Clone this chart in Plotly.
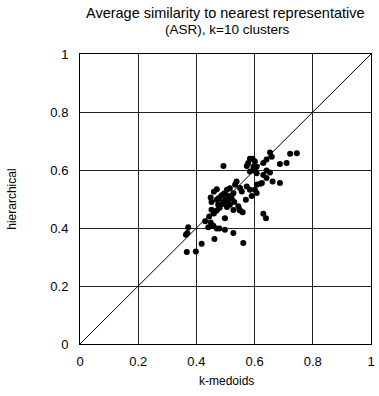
import plotly.graph_objects as go

title_lines = ["Average similarity to nearest representative", "(ASR), k=10 clusters"]
x_label = "k-medoids"
y_label = "hierarchical"
tick_vals = [0, 0.2, 0.4, 0.6, 0.8, 1]
tick_text = ["0", "0.2", "0.4", "0.6", "0.8", "1"]

kmedoids = [
    0.745, 0.722, 0.653, 0.659, 0.641, 0.710, 0.687, 0.630, 0.593, 0.584,
    0.601, 0.578, 0.573, 0.596, 0.607, 0.584, 0.601, 0.607, 0.641, 0.653,
    0.630, 0.641, 0.662, 0.687, 0.493,
    0.538, 0.533, 0.550, 0.556, 0.573, 0.584, 0.608, 0.620, 0.625, 0.601,
    0.607, 0.590, 0.515, 0.527, 0.521, 0.570, 0.505, 0.497, 0.485, 0.476,
    0.470, 0.449, 0.460, 0.470, 0.452, 0.500, 0.490, 0.490, 0.508, 0.510,
    0.530, 0.515, 0.544, 0.548, 0.527, 0.505, 0.490, 0.475, 0.550, 0.559,
    0.630, 0.639, 0.527, 0.561,
    0.452, 0.444, 0.430, 0.449, 0.441, 0.458, 0.470, 0.479, 0.498, 0.498,
    0.462, 0.418, 0.398, 0.367, 0.372, 0.364, 0.369, 0.460, 0.470, 0.480,
]
hierarchical = [
    0.658, 0.656, 0.660, 0.646, 0.636, 0.624, 0.621, 0.624, 0.639, 0.639,
    0.629, 0.624, 0.614, 0.611, 0.611, 0.595, 0.598, 0.589, 0.598, 0.591,
    0.583, 0.572, 0.560, 0.555, 0.614,
    0.560, 0.549, 0.538, 0.526, 0.543, 0.532, 0.550, 0.553, 0.555, 0.532,
    0.521, 0.510, 0.537, 0.520, 0.503, 0.497, 0.532, 0.520, 0.510, 0.503,
    0.534, 0.505, 0.525, 0.497, 0.490, 0.497, 0.490, 0.515, 0.490, 0.510,
    0.490, 0.480, 0.475, 0.463, 0.462, 0.472, 0.483, 0.480, 0.460, 0.454,
    0.449, 0.434, 0.383, 0.348,
    0.463, 0.440, 0.423, 0.419, 0.403, 0.408, 0.398, 0.398, 0.394, 0.434,
    0.362, 0.346, 0.319, 0.317, 0.403, 0.377, 0.383, 0.450, 0.460, 0.470,
]

FONT = "Liberation Sans, Arial, sans-serif"
W, H = 379, 396
L, R, T, B = 80, 8, 54, 51.5
PW = W - L - R
PH = H - T - B

fig = go.Figure()
fig.add_trace(go.Scatter(
    x=[0, 1], y=[0, 1], mode="lines",
    line=dict(color="black", width=1), hoverinfo="skip", showlegend=False,
))
fig.add_trace(go.Scatter(
    x=kmedoids, y=hierarchical, mode="markers",
    marker=dict(color="black", size=6, line=dict(width=0)),
    showlegend=False,
))

axis_common = dict(
    range=[0, 1], tickvals=tick_vals, ticktext=tick_text,
    showgrid=True, gridcolor="#222", gridwidth=1, automargin=False,
    zeroline=False, showline=True, linecolor="black", linewidth=1, mirror=True,
    ticks="", tickfont=dict(family=FONT, size=13, color="black"),
    ticklabeloverflow="allow",
)


def ann(text, px, py, size, angle=0):
    # px, py are page pixel positions (top-left origin)
    fx = (px - L) / PW
    fy = 1 - (py - T) / PH
    return dict(text=text, x=fx, y=fy, xref="paper", yref="paper",
                showarrow=False, xanchor="center", yanchor="middle",
                textangle=angle, font=dict(family=FONT, size=size, color="black"))


annotations = [
    ann(title_lines[0], 225, 13, 14.5),
    ann(title_lines[1], 227, 29.5, 13.5),
    ann(x_label, 226, 382, 12),
    ann(y_label, 12, 200, 12, -90),
]

fig.update_layout(
    width=W, height=H,
    margin=dict(l=L, r=R, t=T, b=B, autoexpand=False),
    paper_bgcolor="white", plot_bgcolor="white",
    font=dict(family=FONT, size=12, color="black"),
    hovermode=False,
    xaxis=dict(**axis_common, ticklabelstandoff=5),
    yaxis=dict(**axis_common, ticklabelstandoff=8),
    annotations=annotations,
)

fig.write_html(
    "out.html",
    config={"displayModeBar": False, "staticPlot": True},
    post_script="document.body.style.margin='0';document.body.style.padding='0';",
)
